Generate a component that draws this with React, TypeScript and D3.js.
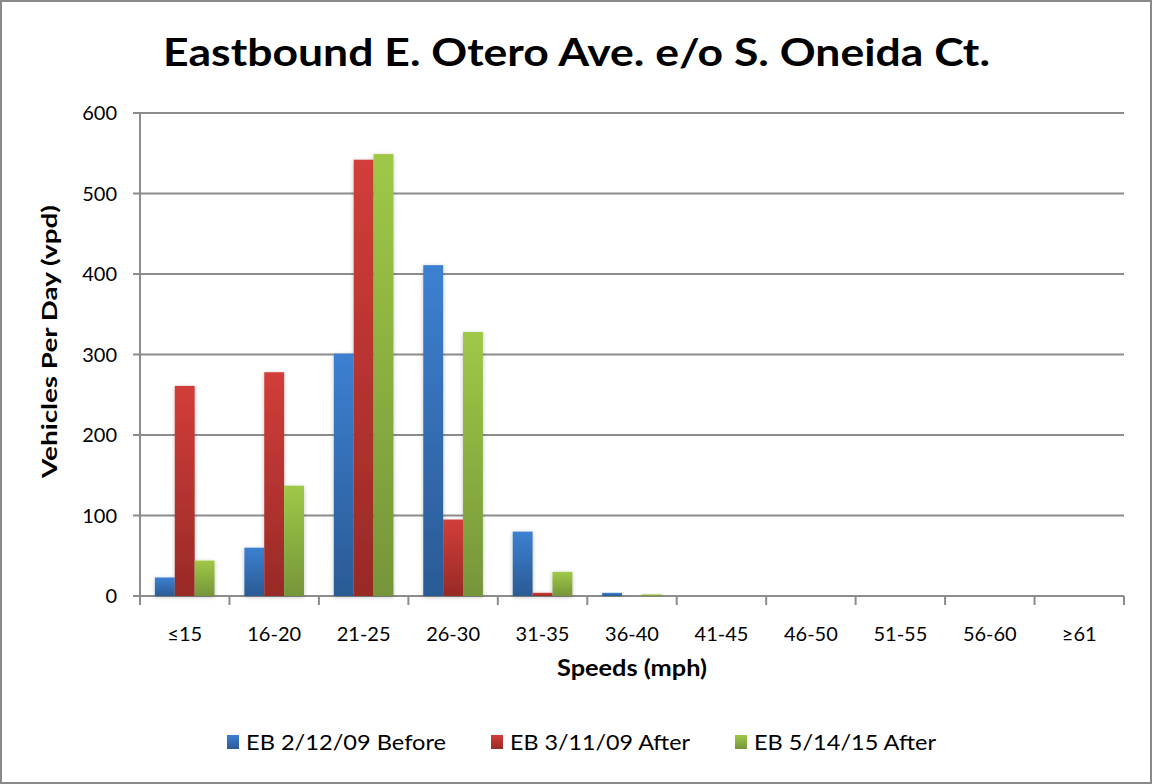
import React from "react";
import * as d3 from "d3";

const categories = ["≤15", "16-20", "21-25", "26-30", "31-35", "36-40", "41-45", "46-50", "51-55", "56-60", "≥61"];
const seriesNames = ["EB 2/12/09 Before", "EB 3/11/09 After", "EB 5/14/15 After"];
const before0209 = [23, 60, 301, 411, 80, 4, 0, 0, 0, 0, 0];
const after0309 = [261, 278, 542, 95, 4, 0, 0, 0, 0, 0, 0];
const after0515 = [44, 137, 549, 328, 30, 2, 0, 0, 0, 0, 0];
const yTicks = [0, 100, 200, 300, 400, 500, 600];
const colorsTop = ["#3c80d2", "#d23d39", "#9fc847"];
const colorsBottom = ["#2b5a94", "#982a27", "#76953a"];

const W = 1152, H = 784;
const left = 140, right = 1124, top = 113, bottom = 596;
const FONT = "Lato, 'Open Sans', sans-serif";

export default function App() {
  const series = [before0209, after0309, after0515];
  const x0 = d3.scaleBand<string>().domain(categories).range([left, right]).paddingInner(0).paddingOuter(0);
  const x1 = d3.scaleBand<number>().domain([0, 1, 2]).range([0, x0.bandwidth()]).paddingOuter(0.75).paddingInner(0);
  const y = d3.scaleLinear().domain([0, 600]).range([bottom, top]);
  const legendX = [227, 491, 735];
  const legendW = [200, 180, 182];
  return (
    <div style={{ position: "fixed", left: 0, top: 0 }}>
      <svg width={W} height={H} style={{ display: "block" }}>
        <defs>
          {colorsTop.map((c, i) => (
            <linearGradient key={i} id={`g${i}`} x1="0" y1="0" x2="0" y2="1">
              <stop offset="0%" stopColor={c} />
              <stop offset="100%" stopColor={colorsBottom[i]} />
            </linearGradient>
          ))}
          <filter id="sh" x="-30%" y="-10%" width="160%" height="120%">
            <feGaussianBlur in="SourceAlpha" stdDeviation="2" />
            <feOffset dx="0" dy="1" result="b" />
            <feComponentTransfer><feFuncA type="linear" slope="0.25" /></feComponentTransfer>
            <feMerge><feMergeNode /><feMergeNode in="SourceGraphic" /></feMerge>
          </filter>
        </defs>
        <rect x={1} y={1} width={W - 2} height={H - 2} fill="#fff" stroke="#8a8a8a" strokeWidth={2} />
        <text x={163} y={66} fontFamily={FONT} fontWeight="bold" fontSize={38} fill="#000" textLength={827} lengthAdjust="spacingAndGlyphs">
          Eastbound E. Otero Ave. e/o S. Oneida Ct.
        </text>
        {yTicks.map((t) => (
          <g key={t}>
            <line x1={133} x2={right} y1={y(t)} y2={y(t)} stroke="#8c8c8c" strokeWidth={2} />
            <text x={117} y={y(t) + 7} textAnchor="end" fontFamily={FONT} fontSize={20} fill="#000">{t}</text>
          </g>
        ))}
        <line x1={left} x2={left} y1={top} y2={bottom} stroke="#8c8c8c" strokeWidth={2} />
        {categories.map((c) => (
          <line key={c} x1={x0(c)!} x2={x0(c)!} y1={bottom} y2={bottom + 9} stroke="#8c8c8c" strokeWidth={2} />
        ))}
        <line x1={right} x2={right} y1={bottom} y2={bottom + 9} stroke="#8c8c8c" strokeWidth={2} />
        {categories.map((c, ci) => (
          <g key={c} filter="url(#sh)">
            {series.map((s, si) => {
              const v = s[ci];
              if (v <= 0) return null;
              return (
                <rect key={si} x={x0(c)! + x1(si)!} y={y(v)} width={x1.bandwidth()} height={bottom - y(v)} fill={`url(#g${si})`} />
              );
            })}
          </g>
        ))}
        {categories.map((c) => (
          <text key={c} x={x0(c)! + x0.bandwidth() / 2} y={641} textAnchor="middle" fontFamily={FONT} fontSize={20} fill="#000">{c}</text>
        ))}
        <text x={557} y={676} fontFamily={FONT} fontWeight="bold" fontSize={22} fill="#000" textLength={150} lengthAdjust="spacingAndGlyphs">Speeds (mph)</text>
        <text transform={`translate(57,478) rotate(-90)`} fontFamily={FONT} fontWeight="bold" fontSize={21} fill="#000" textLength={273} lengthAdjust="spacingAndGlyphs">Vehicles Per Day (vpd)</text>
        {seriesNames.map((n, i) => {
          const lx = legendX[i];
          return (
            <g key={n}>
              <rect x={lx} y={735} width={12} height={14} fill={`url(#g${i})`} />
              <text x={lx + 19} y={750} fontFamily={FONT} fontSize={21} fill="#000" textLength={legendW[i]} lengthAdjust="spacingAndGlyphs">{n}</text>
            </g>
          );
        })}
      </svg>
    </div>
  );
}
